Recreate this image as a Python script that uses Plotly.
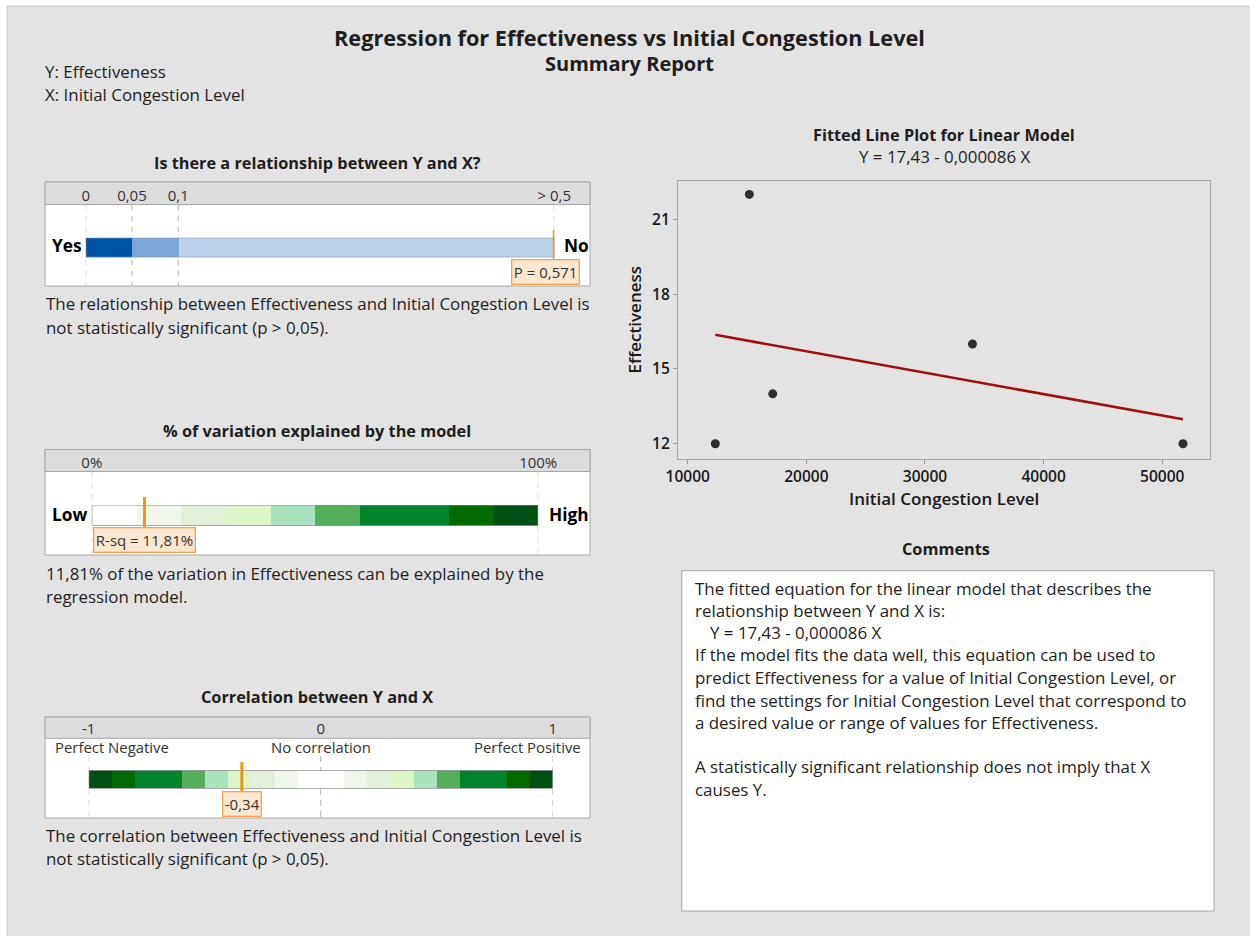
import numpy as np
import plotly.graph_objects as go

W, H = 1250, 936
FONT = "Open Sans"
INK = "#1e1e1e"
BODY = 16.9

# ---- data -------------------------------------------------------------
congestion = [12327, 15194, 17167, 34000, 51745]
effectiveness = [12, 22, 14, 16, 12]
intercept = 17.43
slope = -0.000086

p_value = 0.571
r_sq = 11.81
corr = -0.34

p_edges = [0, 0.05, 0.1, 0.5]
p_tick_text = ["0", "0,05", "0,1", "> 0,5"]
p_colors = ["#0054a6", "#7ba7d7", "#bdd3ec"]

rsq_edges = [0, 10, 20, 30, 40, 50, 60, 80, 90, 100]
rsq_colors = ["#ffffff", "#eff7ec", "#e2efd9", "#dbf5c6", "#a8e3bd",
              "#52ae5b", "#00832a", "#006a00", "#004f14"]
rsq_ticks = [0, 100]
rsq_tick_text = ["0%", "100%"]

corr_edges = [-1, -0.9, -0.8, -0.6, -0.5, -0.4, -0.3, -0.2, -0.1,
              0.1, 0.2, 0.3, 0.4, 0.5, 0.6, 0.8, 0.9, 1]
corr_colors = ["#004f14", "#006a00", "#00832a", "#52ae5b", "#a8e3bd",
               "#dbf5c6", "#e2efd9", "#eff7ec", "#ffffff",
               "#eff7ec", "#e2efd9", "#dbf5c6", "#a8e3bd", "#52ae5b",
               "#00832a", "#006a00", "#004f14"]
corr_ticks = [-1, 0, 1]
corr_tick_text = ["-1", "0", "1"]

x_ticks = [10000, 20000, 30000, 40000, 50000]
y_ticks = [12, 15, 18, 21]


# ---- helpers ----------------------------------------------------------
def px(x):
    return x / W


def py(y):
    return 1 - y / H


# p-value gauge uses a stretched scale: 0-0.05-0.1 evenly, then 0.1-0.5
P_KNOTS = [0, 0.05, 0.1, 0.5]
P_UNITS = [0, 1, 2, 10.13]


def p_pos(v):
    return float(np.interp(min(v, 0.5), P_KNOTS, P_UNITS))


fig = go.Figure()
shapes = []
annotations = []


def text(x, y, s, size=BODY, weight=400, xanchor="left", color=INK, **kw):
    annotations.append(dict(
        x=px(x), y=py(y), xref="paper", yref="paper", text=s,
        showarrow=False, xanchor=xanchor, yanchor="middle",
        font=dict(family=FONT, size=size, weight=weight, color=color), **kw))


def rect(x0, y0, x1, y1, fill, line="#a8a8a8", width=1, layer="below"):
    shapes.append(dict(type="rect", xref="paper", yref="paper",
                       x0=px(x0), x1=px(x1), y0=py(y0), y1=py(y1),
                       fillcolor=fill, line=dict(color=line, width=width),
                       layer=layer))


# background panel
rect(7, 6, 1252, 940, "#e3e3e3", line="#cccccc", width=1)

# ---- headers ----------------------------------------------------------
text(629, 38, "Regression for Effectiveness vs Initial Congestion Level",
     size=21.7, weight=700, xanchor="center")
text(629, 64, "Summary Report", size=20, weight=700, xanchor="center")
text(43, 72, "Y: Effectiveness")
text(43, 95, "X: Initial Congestion Level")


# ---- gauge builder ----------------------------------------------------
def gauge(idx, box, header_bottom, bar, lo, hi, edges_pos, colors,
          tickvals, ticktext, dash_x, dash_top):
    bx0, by0, bx1, by1 = box
    gx0, gy0, gx1, gy1 = bar
    xa, ya = f"x{idx}", f"y{idx}"
    # box and header strip
    rect(bx0, by0, bx1, by1, "#ffffff")
    rect(bx0, by0, bx1, header_bottom, "#dcdcdc")
    # dashed reference lines (hidden under the bar by the plot background)
    for v in dash_x:
        shapes.append(dict(type="line", xref=xa, yref="paper", x0=v, x1=v,
                           y0=py(dash_top), y1=py(by1),
                           line=dict(color="#b4b4b4", width=1, dash="6px,5px"),
                           layer="below"))
    for i, c in enumerate(colors):
        fig.add_trace(go.Bar(
            orientation="h", y=[0], base=[edges_pos[i]],
            x=[edges_pos[i + 1] - edges_pos[i]], width=1,
            marker=dict(color=c, line=dict(width=0)),
            xaxis=xa, yaxis=ya, showlegend=False, hoverinfo="skip"))
    shapes.append(dict(type="rect", xref=xa, yref=ya, x0=lo, x1=hi,
                       y0=-0.5, y1=0.5, line=dict(color="#8f8f8f", width=1.2),
                       fillcolor="rgba(0,0,0,0)", layer="above"))
    fig.layout[f"xaxis{idx}"] = dict(
        domain=[px(gx0), px(gx1)], range=[lo, hi], anchor="free",
        position=py(header_bottom), side="top", showgrid=False,
        zeroline=False, showline=False, ticks="", tickvals=tickvals,
        ticktext=ticktext, ticklabelstandoff=1, automargin=False,
        tickfont=dict(family=FONT, size=15, color="#333333"), fixedrange=True)
    fig.layout[f"yaxis{idx}"] = dict(
        domain=[py(gy1), py(gy0)], range=[-0.5, 0.5], visible=False,
        anchor=xa, fixedrange=True, automargin=False)


def marker(idx, v, top, bottom, label, lab_y, xshift=0):
    xa = f"x{idx}"
    shapes.append(dict(type="line", xref=xa, yref="paper", x0=v, x1=v,
                       y0=py(top), y1=py(bottom),
                       line=dict(color="#f39418", width=3), layer="above"))
    annotations.append(dict(
        x=v, y=py(lab_y), xref=xa, yref="paper", text=label,
        showarrow=False, xanchor="center", yanchor="middle", xshift=xshift,
        bgcolor="#fbe6cf", bordercolor="#f5a64a", borderwidth=1.3,
        borderpad=1.5,
        font=dict(family=FONT, size=15, color="#333333")))


# ---- panel 1: relationship (p-value) ----------------------------------
text(317, 163, "Is there a relationship between Y and X?", size=16.3,
     weight=700, xanchor="center")
p_edge_pos = [p_pos(v) for v in p_edges]
gauge(2, (45, 182, 590, 286), 204.5, (85.7, 237.7, 554.3, 257.3),
      0, p_pos(0.5), p_edge_pos, p_colors,
      p_edge_pos, p_tick_text, p_edge_pos, 204.5)
marker(2, p_pos(p_value), 230, 263, f"P = {p_value:.3f}".replace(".", ","),
       272, xshift=-9)
text(67, 246, "Yes", size=17.3, weight=700, xanchor="center", color="#000000")
text(576, 246, "No", size=17.3, weight=700, xanchor="center", color="#000000")
text(44, 304, "The relationship between Effectiveness and Initial Congestion "
     "Level is")
text(44, 327, "not statistically significant (p &gt; 0,05).")

# ---- panel 2: R-squared -----------------------------------------------
text(317, 431, "% of variation explained by the model", size=16.3,
     weight=700, xanchor="center")
gauge(3, (45, 449.5, 590, 555), 471.5, (91.8, 505, 538.2, 525.7),
      0, 100, rsq_edges, rsq_colors, rsq_ticks, rsq_tick_text,
      rsq_ticks, 471.5)
marker(3, r_sq, 497, 532, f"R-sq = {r_sq:.2f}%".replace(".", ","), 540)
text(69, 514.5, "Low", size=17.3, weight=700, xanchor="center",
     color="#000000")
text(568.5, 514.5, "High", size=17.3, weight=700, xanchor="center",
     color="#000000")
text(44, 573, f"{r_sq:.2f}% of the variation in Effectiveness can be "
     "explained by the".replace(".", ","))
text(44, 596, "regression model.")

# ---- panel 3: correlation ---------------------------------------------
text(317, 697, "Correlation between Y and X", size=16.3, weight=700,
     xanchor="center")
gauge(4, (45, 717, 590, 818), 738.3, (88.7, 770.3, 552.7, 788.7),
      -1, 1, corr_edges, corr_colors, corr_ticks, corr_tick_text,
      corr_ticks, 756)
marker(4, corr, 762, 794, f"{corr:.2f}".replace(".", ","), 803.5)
text(112, 747, "Perfect Negative", size=14.9, xanchor="center",
     color="#333333")
text(320.7, 747, "No correlation", size=14.9, xanchor="center",
     color="#333333")
text(527, 747, "Perfect Positive", size=14.9, xanchor="center",
     color="#333333")
text(44, 835, "The correlation between Effectiveness and Initial Congestion "
     "Level is")
text(44, 858, "not statistically significant (p &gt; 0,05).")

# ---- fitted line plot -------------------------------------------------
eq = f"Y = {intercept:.2f} - {abs(slope):.6f} X".replace(".", ",")
text(944, 135, "Fitted Line Plot for Linear Model", size=16.3, weight=700,
     xanchor="center")
text(944, 157, eq, xanchor="center")

x_fit = np.array([min(congestion), max(congestion)], dtype=float)
y_fit = intercept + slope * x_fit
fig.add_trace(go.Scatter(x=x_fit, y=y_fit, mode="lines",
                         line=dict(color="#a00d0d", width=2.6),
                         showlegend=False, hoverinfo="skip"))
fig.add_trace(go.Scatter(x=congestion, y=effectiveness, mode="markers",
                         marker=dict(color="#2e2e2e", size=9),
                         showlegend=False))

axis_font = dict(family=FONT, size=15.5, color="#1a1a1a", weight=600)
title_font = dict(family=FONT, size=17, color="#1a1a1a", weight=600)
fig.layout["xaxis"] = dict(
    domain=[px(678), px(1210.3)], range=[9182, 54047], anchor="y",
    tickvals=x_ticks, tickformat="d", ticks="outside", ticklen=4,
    tickcolor="#9a9a9a", automargin=False,
    showline=True, mirror=True, linecolor="#a6a6a6", linewidth=1.2,
    showgrid=False, zeroline=False, tickfont=axis_font,
    title=dict(text="Initial Congestion Level", standoff=6, font=title_font))
fig.layout["yaxis"] = dict(
    domain=[py(458.7), py(180.7)], range=[11.40, 22.55], anchor="x",
    tickvals=y_ticks, ticks="outside", ticklen=4, tickcolor="#9a9a9a",
    automargin=False,
    showline=True, mirror=True, linecolor="#a6a6a6", linewidth=1.2,
    showgrid=False, zeroline=False, tickfont=axis_font,
    title=dict(text="Effectiveness", standoff=6, font=title_font))

# ---- comments ---------------------------------------------------------
text(946, 549, "Comments", size=16.3, weight=700, xanchor="center")
rect(681.8, 570.7, 1214, 911, "#ffffff")
comment_lines = [
    (693, 588, "The fitted equation for the linear model that describes the"),
    (693, 610, "relationship between Y and X is:"),
    (708, 632, eq),
    (693, 654.5, "If the model fits the data well, this equation can be used to"),
    (693, 677, "predict Effectiveness for a value of Initial Congestion Level, or"),
    (693, 700, "find the settings for Initial Congestion Level that correspond to"),
    (693, 722.5, "a desired value or range of values for Effectiveness."),
    (693, 766, "A statistically significant relationship does not imply that X"),
    (693, 789, "causes Y."),
]
for x, y, s in comment_lines:
    text(x, y, s)

fig.update_layout(
    width=W, height=H, margin=dict(l=0, r=0, t=0, b=0, autoexpand=False),
    paper_bgcolor="#ffffff", plot_bgcolor="#ffffff",
    barmode="overlay", bargap=0, shapes=shapes, annotations=annotations,
    showlegend=False, font=dict(family=FONT, color=INK),
)

fig.write_html("out.html", config={"displayModeBar": False})
